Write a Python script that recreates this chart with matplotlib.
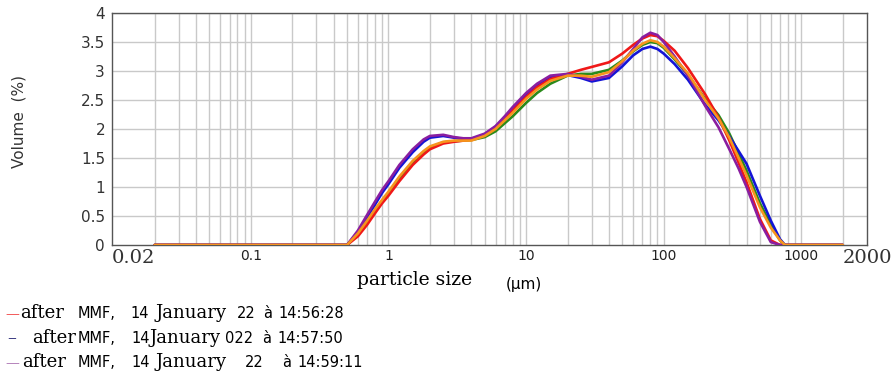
import matplotlib
matplotlib.use('Agg')
import matplotlib.pyplot as plt

# ========== data ==========
size_um = [0.02, 0.5, 0.6, 0.7, 0.8, 0.9, 1.0, 1.2, 1.5, 1.8, 2.0, 2.5, 3.0, 3.5, 4.0,
           5.0, 6.0, 7.0, 8.0, 10, 12, 15, 20, 25, 30, 40, 50, 60, 70, 80, 90, 100,
           120, 150, 200, 250, 300, 350, 400, 500, 600, 700, 760, 2000]

vol_green = [0, 0, 0.18, 0.38, 0.58, 0.75, 0.88, 1.14, 1.42, 1.60, 1.68, 1.77, 1.79, 1.80, 1.81,
             1.86, 1.96, 2.10, 2.22, 2.45, 2.62, 2.78, 2.92, 2.95, 2.95, 3.02, 3.18, 3.34, 3.45, 3.50, 3.48, 3.40,
             3.20, 2.93, 2.52, 2.24, 1.92, 1.58, 1.28, 0.72, 0.35, 0.08, 0, 0]
vol_blue = [0, 0, 0.22, 0.48, 0.70, 0.90, 1.05, 1.33, 1.60, 1.78, 1.85, 1.88, 1.85, 1.83, 1.83,
            1.90, 2.04, 2.20, 2.35, 2.60, 2.76, 2.90, 2.93, 2.88, 2.82, 2.88, 3.08, 3.27, 3.38, 3.42, 3.38, 3.30,
            3.12, 2.85, 2.42, 2.15, 1.87, 1.62, 1.40, 0.85, 0.42, 0.10, 0, 0]
vol_red = [0, 0, 0.15, 0.35, 0.55, 0.72, 0.85, 1.10, 1.38, 1.56, 1.65, 1.75, 1.78, 1.80, 1.82,
           1.90, 2.02, 2.18, 2.32, 2.55, 2.72, 2.86, 2.95, 3.02, 3.07, 3.15, 3.30, 3.45, 3.56, 3.62, 3.60, 3.52,
           3.35, 3.05, 2.60, 2.20, 1.80, 1.42, 1.08, 0.45, 0.08, 0, 0, 0]
vol_purple = [0, 0, 0.25, 0.52, 0.75, 0.95, 1.10, 1.38, 1.65, 1.82, 1.88, 1.90, 1.86, 1.84, 1.84,
              1.92, 2.05, 2.22, 2.38, 2.62, 2.78, 2.92, 2.95, 2.90, 2.85, 2.92, 3.15, 3.38, 3.58, 3.66, 3.62, 3.50,
              3.25, 2.92, 2.40, 2.03, 1.65, 1.32, 1.00, 0.40, 0.05, 0, 0, 0]
vol_orange = [0, 0, 0.20, 0.42, 0.62, 0.78, 0.92, 1.18, 1.45, 1.62, 1.70, 1.78, 1.80, 1.80, 1.80,
              1.88, 2.00, 2.15, 2.28, 2.52, 2.68, 2.83, 2.92, 2.92, 2.90, 2.98, 3.17, 3.35, 3.47, 3.53, 3.50, 3.42,
              3.22, 2.96, 2.50, 2.18, 1.85, 1.50, 1.20, 0.65, 0.30, 0.08, 0, 0]

series = [
    (vol_green, '#2a8a1a'),
    (vol_blue, '#1414d6'),
    (vol_red, '#f01818'),
    (vol_purple, '#8a1ea0'),
    (vol_orange, '#f7941d'),
]

xtick_vals = [0.02, 0.1, 1, 10, 100, 1000, 2000]
xtick_labels = ['0.02', '0.1', '1', '10', '100', '1000', '2000']
ytick_vals = [0, 0.5, 1, 1.5, 2, 2.5, 3, 3.5, 4]
ytick_labels = ['0', '0.5', '1', '1.5', '2', '2.5', '3', '3.5', '4']

SERIF = 'DejaVu Serif'
SANS = 'DejaVu Sans'

# legend rows: (baseline px, [(x px, text, font, colour)])
legend_rows = [
    (318, [(5, '—', SERIF, '#ee2a2a'), (20, 'after', SERIF, 'black'), (78, 'MMF,', SANS, 'black'),
           (130, '14', SANS, 'black'), (155, 'January', SERIF, 'black'), (237, '22', SANS, 'black'),
           (263, 'à', SANS, 'black'), (278, '14:56:28', SANS, 'black')]),
    (343, [(7, '–', SERIF, '#2e2e7a'), (32, 'after', SERIF, 'black'), (78, 'MMF,', SANS, 'black'),
           (131, '14', SANS, 'black'), (150, 'January', SERIF, 'black'), (225, '022', SANS, 'black'),
           (262, 'à', SANS, 'black'), (277, '14:57:50', SANS, 'black')]),
    (367, [(5, '—', SERIF, '#a060a8'), (22, 'after', SERIF, 'black'), (78, 'MMF,', SANS, 'black'),
           (131, '14', SANS, 'black'), (155, 'January', SERIF, 'black'), (245, '22', SANS, 'black'),
           (282, 'à', SANS, 'black'), (297, '14:59:11', SANS, 'black')]),
]

# ========== figure ==========
W, H = 894, 373
fig = plt.figure(figsize=(W / 100, H / 100), dpi=100)
ax = fig.add_axes([112 / W, 1 - 245 / H, 755 / W, 232 / H])

for vals, col in series:
    ax.plot(size_um, vals, color=col, linewidth=1.9, solid_capstyle='round', zorder=3)

ax.set_xscale('log')
ax.set_xlim(0.0098, 3000)
ax.set_ylim(0, 4)

# grid: every log step from 0.02 up to 2000, horizontal every 0.5
grid_x = [m * 10.0 ** e for e in range(-2, 4) for m in range(1, 10)]
grid_x = [g for g in grid_x if 0.019 < g < 2100]
for g in grid_x:
    ax.axvline(g, color='#c9c9c9', linewidth=1.0, zorder=0)
for yv in ytick_vals[1:]:
    ax.axhline(yv, color='#c9c9c9', linewidth=1.0, zorder=0)

for sp in ax.spines.values():
    sp.set_color('#555555')
    sp.set_linewidth(1.0)

ax.set_xticks(xtick_vals)
ax.set_xticklabels(xtick_labels)
ax.xaxis.set_minor_locator(matplotlib.ticker.NullLocator())
ax.set_yticks(ytick_vals)
ax.set_yticklabels(ytick_labels, fontsize=11, family=SANS, color='#333333')
ax.tick_params(axis='both', length=0)
ax.tick_params(axis='y', pad=5)
ax.tick_params(axis='x', pad=3)
for lab in ax.get_xticklabels():
    t = lab.get_text()
    if t in ('0.02', '2000'):
        lab.set_family(SERIF)
        lab.set_fontsize(14)
        lab.set_color('#333333')
        lab.set_horizontalalignment('right' if t == '0.02' else 'left')
    else:
        lab.set_family(SANS)
        lab.set_fontsize(10)
        lab.set_color('#222222')

fig.text(19 / W, 1 - 121 / H, 'Volume  (%)', fontsize=11, family=SANS, color='#333333',
         rotation=90, ha='center', va='center')
fig.text(415 / W, 1 - 285 / H, 'particle size', family=SERIF, fontsize=13.5,
         ha='center', va='baseline')
fig.text(524 / W, 1 - 284 / H, '(µm)', family=SANS, fontsize=11,
         ha='center', va='center')

# ========== legend rows, mixed fonts like the source ==========
for base, parts in legend_rows:
    for xp, txt, fam, col in parts:
        fs = 13 if fam == SERIF else 10.5
        if txt == '—':
            fs = 10
        fig.text(xp / W, 1 - base / H, txt, family=fam, fontsize=fs, color=col,
                 ha='left', va='baseline')

fig.savefig('out.png', dpi=100)
